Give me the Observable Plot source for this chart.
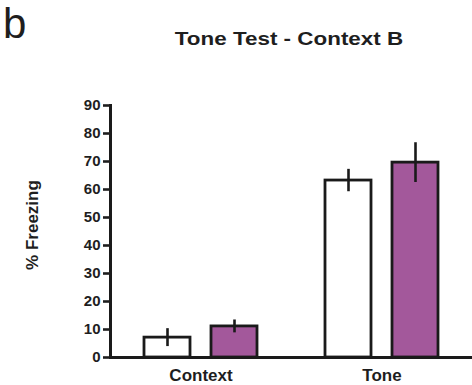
<!DOCTYPE html>
<html>
<head>
<meta charset="utf-8">
<script src="https://cdn.jsdelivr.net/npm/d3@7"></script>
<script src="https://cdn.jsdelivr.net/npm/@observablehq/plot@0.6"></script>
<style>
  html, body { margin: 0; padding: 0; background: #fff; }
  #wrap { position: relative; width: 472px; height: 385px; overflow: hidden; font-family: "Liberation Sans", Arial, sans-serif; color: #1e1e1e; }
  #wrap svg { position: absolute; left: 0; top: 0; }
  .panel { position: absolute; left: 3px; top: 3px; font-size: 42px; line-height: 42px; font-weight: normal; }
  .title { position: absolute; left: 289px; top: 29px; font-size: 19px; line-height: 19px; font-weight: bold; white-space: nowrap; transform: translateX(-50%) scaleX(1.18); }
  .ylab { position: absolute; left: 32px; top: 225px; font-size: 17px; line-height: 17px; font-weight: bold; white-space: nowrap; transform: translate(-50%, -50%) rotate(-90deg); }
</style>
</head>
<body>
<div id="wrap">
  <div class="panel">b</div>
  <div class="title">Tone Test - Context B</div>
  <div class="ylab">% Freezing</div>
</div>
<script>
const phases = ["Context", "Tone"];
const groups = ["Control", "Treatment"];
const controlMean = [7.1, 63.2];
const controlSem = [3.2, 4.0];
const treatmentMean = [11.1, 69.6];
const treatmentSem = [2.3, 7.1];
const yTicks = [0, 10, 20, 30, 40, 50, 60, 70, 80, 90];

const rows = [];
phases.forEach((p, i) => {
  rows.push({phase: p, group: groups[0], value: controlMean[i], sem: controlSem[i]});
  rows.push({phase: p, group: groups[1], value: treatmentMean[i], sem: treatmentSem[i]});
});

const chart = Plot.plot({
  width: 472,
  height: 385,
  marginLeft: 110,
  marginRight: 0,
  marginTop: 105,
  marginBottom: 28,
  style: {fontFamily: "Liberation Sans, Arial, sans-serif", color: "#1e1e1e", background: "transparent"},
  fx: {domain: phases, paddingInner: 0, paddingOuter: 0},
  x: {domain: groups, paddingInner: 0.32, paddingOuter: 0.5, axis: null},
  y: {domain: [0, 90]},
  color: {domain: groups, range: ["#ffffff", "#a3589b"]},
  marks: [
    Plot.barY(rows, {fx: "phase", x: "group", y: "value", fill: "group", stroke: "#1a1a1a", strokeWidth: 2.8}),
    Plot.ruleX(rows, {fx: "phase", x: "group", y1: d => d.value - d.sem, y2: d => d.value + d.sem, stroke: "#1a1a1a", strokeWidth: 2.6}),
    Plot.ruleY([0], {stroke: "#1a1a1a", strokeWidth: 3}),
    Plot.frame({anchor: "left", facetAnchor: "left", stroke: "#1a1a1a", strokeWidth: 3}),
    Plot.axisY({ticks: yTicks, tickSize: 7, tickPadding: 3, strokeWidth: 2.6, fontSize: 15, fontWeight: "bold", label: null}),
    Plot.axisFx({anchor: "bottom", tickSize: 0, tickPadding: 11, fontSize: 17, fontWeight: "bold", label: null})
  ]
});
document.getElementById("wrap").prepend(chart);
</script>
</body>
</html>
